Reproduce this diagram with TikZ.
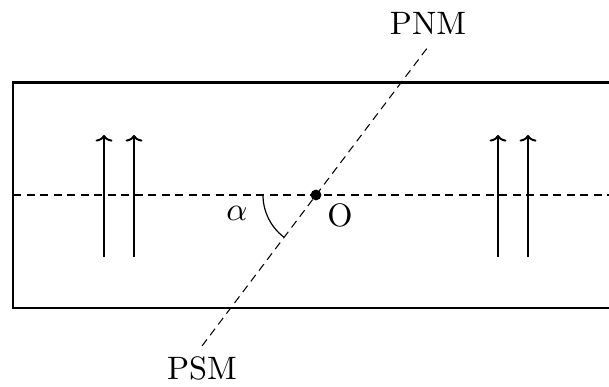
\documentclass[tikz,border=0pt]{standalone}
\usetikzlibrary{arrows.meta}
\begin{document}
\begin{tikzpicture}[x=0.3333pt,y=0.3333pt,
  frame/.style={line width=0.75pt},
  axisline/.style={line width=0.35pt,dash pattern=on 2.7pt off 1.8pt},
  field/.style={line width=0.65pt,-{To[length=2.2pt,width=5.6pt]}},
  lbl/.style={inner sep=0pt,font=\fontsize{10.8}{13}\selectfont}]
\useasboundingbox (0,0) rectangle (609,387);
\clip (0,0) rectangle (609,387);
% frame
\draw[frame] (13,79) rectangle (640,304.5);
% coordinates
\coordinate (L) at (13,192);
\coordinate (R) at (640,192);
\coordinate (S) at (202,41);
\coordinate (N) at (428,340);
\coordinate (A) at (263,192);
\node[circle,fill=black,inner sep=0pt,minimum size=3.6pt] (O) at (316,192) {};
% axes
\draw[axisline] (L) -- (R);
\draw[axisline] (S) -- (N);
% angle
\draw[line width=0.4pt] (A) arc[start angle=180,end angle=232.9,radius=53];
% labels
\node[lbl] (pnm) at (428,364) {PNM};
\node[lbl] (psm) at (202,19) {PSM};
\node[lbl] (alpha) at (237,174) {$\alpha$};
\node[lbl] (olab) at (340,172) {O};
% field arrows
\coordinate (a1s) at (104,130); \coordinate (a1e) at (104,252);
\coordinate (a2s) at (134,130); \coordinate (a2e) at (134,252);
\coordinate (a3s) at (498,130); \coordinate (a3e) at (498,252);
\coordinate (a4s) at (528,130); \coordinate (a4e) at (528,252);
\draw[field] (a1s) -- (a1e);
\draw[field] (a2s) -- (a2e);
\draw[field] (a3s) -- (a3e);
\draw[field] (a4s) -- (a4e);
\end{tikzpicture}
\end{document}
